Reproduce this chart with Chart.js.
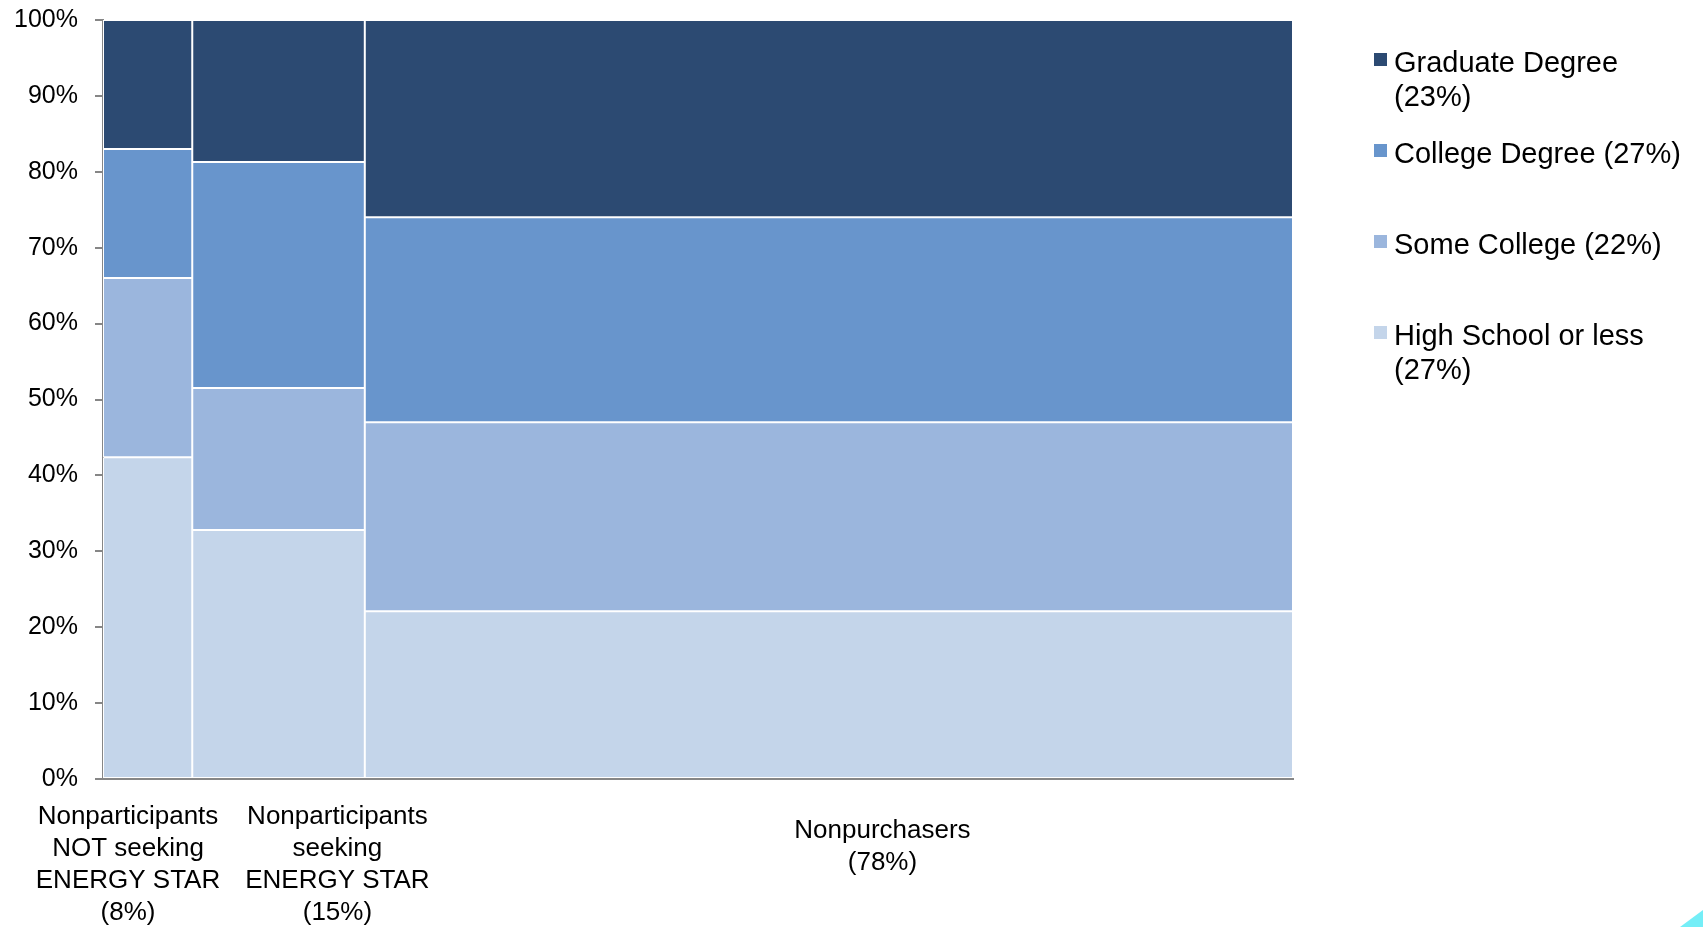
<!DOCTYPE html>
<html lang="en">
<head>
<meta charset="UTF-8">
<title>Education by group</title>
<script src="https://cdn.jsdelivr.net/npm/chart.js@4/dist/chart.umd.min.js"></script>
<style>
  * { margin: 0; padding: 0; box-sizing: border-box; }
  body { background: #fff; font-family: 'Liberation Sans', Arial, sans-serif; }
  #wrap { position: relative; width: 1703px; height: 927px; }
  #legend { position: absolute; left: 1374px; top: 45px; }
  .leg-item { position: relative; height: 91px; }
  .leg-box { position: absolute; left: 0; top: 8px; width: 13px; height: 13px; }
  .leg-text { margin-left: 20px; width: 296px; font-size: 29px; line-height: 34px; color: #000; }
  #corner { position: absolute; right: 0; bottom: 0; width: 23px; height: 17px;
            background: #74eef7; clip-path: polygon(100% 0, 100% 100%, 0 100%); }
</style>
</head>
<body>
<div id="wrap">
  <canvas id="chart-mekko"></canvas>
  <div id="legend"></div>
  <div id="corner"></div>
</div>
<script>
'use strict';

// ---------------------------------------------------------------
// Grupos (columnas) y su peso en la muestra (%)
// ---------------------------------------------------------------
const grupos = [
  ['Nonparticipants', 'NOT seeking', 'ENERGY STAR'],
  ['Nonparticipants', 'seeking', 'ENERGY STAR'],
  ['Nonpurchasers']
];
const pesoGrupo = [7.5, 14.5, 78.0];

// Reparto por nivel educativo dentro de cada grupo (%)
const highSchool    = [42.4, 32.8, 22.1];
const someCollege   = [23.6, 18.7, 24.9];
const collegeDegree = [17.0, 29.8, 27.0];
const gradDegree    = [17.0, 18.7, 26.0];

// Leyenda
const nivelNombres = ['Graduate Degree', 'College Degree', 'Some College', 'High School or less'];
const nivelTotales = [23, 27, 22, 27];

const yTicks = [0, 10, 20, 30, 40, 50, 60, 70, 80, 90, 100];

// Colores por nivel (mismo orden que la leyenda)
const COLORES = ['#2c4a72', '#6895cc', '#9bb6dd', '#c4d5ea'];

// posición de cada rótulo de grupo en unidades del eje x, y su desfase vertical
const ROTULO_X = [2.1, 19.7, 65.5];
const ROTULO_Y = [38, 38, 52];

// Bordes acumulados de cada columna
const inicios = [];
pesoGrupo.reduce((acc, w) => { inicios.push(acc); return acc + w; }, 0);
const totalX = pesoGrupo.reduce((a, b) => a + b, 0);
const centros = pesoGrupo.map((w, i) => inicios[i] + w / 2);

const serie = vals => vals.map((v, i) => ({ x: centros[i], y: v }));

// Ajusta el ancho de cada barra al peso de su columna
const anchoMekko = {
  id: 'anchoMekko',
  afterDatasetsUpdate(chart) {
    const xs = chart.scales.x;
    chart.data.datasets.forEach((ds, d) => {
      chart.getDatasetMeta(d).data.forEach((bar, i) => {
        const izq = xs.getPixelForValue(inicios[i]);
        const der = xs.getPixelForValue(inicios[i] + pesoGrupo[i]);
        bar.x = (izq + der) / 2;
        bar.width = der - izq;
      });
    });
  }
};

// Rótulos de grupo bajo el eje x (nombre + peso redondeado)
const rotulosGrupo = {
  id: 'rotulosGrupo',
  afterDraw(chart) {
    const { ctx, chartArea, scales } = chart;
    ctx.save();
    ctx.fillStyle = '#000';
    ctx.font = '26px "Liberation Sans", Arial, sans-serif';
    ctx.textAlign = 'center';
    ctx.textBaseline = 'middle';
    grupos.forEach((lineas, i) => {
      const x = scales.x.getPixelForValue(ROTULO_X[i]);
      const todas = [...lineas, `(${Math.round(pesoGrupo[i])}%)`];
      todas.forEach((t, k) => {
        ctx.fillText(t, x, chartArea.bottom + ROTULO_Y[i] + k * 32);
      });
    });
    ctx.restore();
  }
};

const niveles = [highSchool, someCollege, collegeDegree, gradDegree];
const datasets = niveles.map((vals, k) => ({
  label: nivelNombres[3 - k],
  data: serie(vals),
  backgroundColor: COLORES[3 - k],
  borderColor: '#fff',
  borderWidth: 1,
  borderSkipped: false
}));

new Chart(document.getElementById('chart-mekko'), {
  type: 'bar',
  data: { datasets },
  plugins: [anchoMekko, rotulosGrupo],
  options: {
    responsive: true,
    maintainAspectRatio: false,
    animation: false,
    layout: { padding: { left: 0, right: 410, top: 20, bottom: 148 } },
    plugins: { legend: { display: false }, tooltip: { enabled: false } },
    scales: {
      x: {
        type: 'linear',
        offset: false,
        min: 0,
        max: totalX,
        stacked: true,
        ticks: { display: false },
        grid: { display: false },
        border: { display: true, color: '#868686', width: 2 },
        afterFit: s => { s.height = 0; }
      },
      y: {
        stacked: true,
        min: 0,
        max: 100,
        afterBuildTicks: s => { s.ticks = yTicks.map(v => ({ value: v })); },
        ticks: {
          padding: 17,
          color: '#000',
          font: { family: '"Liberation Sans", Arial, sans-serif', size: 25 },
          callback: v => v + '%'
        },
        grid: { display: true, drawOnChartArea: false, drawTicks: true, tickLength: 8, color: '#868686', lineWidth: 2 },
        border: { display: true, color: '#868686', width: 2 },
        afterFit: s => { s.width = 103; s.paddingTop = 0; s.paddingBottom = 0; }
      }
    }
  }
});

// Leyenda en HTML
const leyenda = document.getElementById('legend');
leyenda.innerHTML = nivelNombres.map((n, i) => `
  <div class="leg-item">
    <span class="leg-box" style="background:${COLORES[i]}"></span>
    <div class="leg-text">${n} (${nivelTotales[i]}%)</div>
  </div>`).join('');
</script>
</body>
</html>
